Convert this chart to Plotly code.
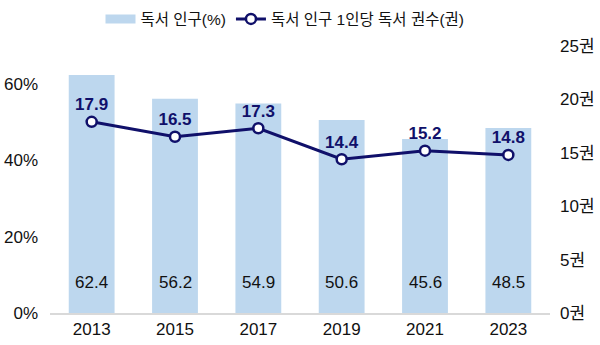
import plotly.graph_objects as go

years = ["2013", "2015", "2017", "2019", "2021", "2023"]
reading_pop = [62.4, 56.2, 54.9, 50.6, 45.6, 48.5]
books_per_reader = [17.9, 16.5, 17.3, 14.4, 15.2, 14.8]
left_ticks = [0, 20, 40, 60]
left_tick_text = ["0%", "20%", "40%", "60%"]
right_ticks = [0, 5, 10, 15, 20, 25]
right_tick_text = ["0권", "5권", "10권", "15권", "20권", "25권"]

FONT = "Liberation Sans, Arial, Noto Sans CJK KR, sans-serif"
NAVY = "#10106A"
BAR = "#BDD7EE"
FS = 17

fig = go.Figure()
fig.add_trace(go.Bar(
    x=years, y=reading_pop, name="독서 인구(%)",
    marker=dict(color=BAR, line=dict(width=0)),
    width=0.55, showlegend=False,
))
# legend-only swatch (wide rectangle like the reference)
fig.add_trace(go.Scatter(
    x=[None], y=[None], name="독서 인구(%)", mode="lines",
    line=dict(color=BAR, width=9), showlegend=True,
))
fig.add_trace(go.Scatter(
    x=years, y=books_per_reader, name="독서 인구 1인당 독서 권수(권)",
    mode="lines+markers+text",
    line=dict(color=NAVY, width=3),
    marker=dict(size=10, color="white", line=dict(color=NAVY, width=2.5)),
    text=[f"<b>{v:.1f}</b>" for v in books_per_reader],
    textposition="top center",
    textfont=dict(color=NAVY, size=FS, family=FONT),
    yaxis="y2",
))

for i, v in enumerate(reading_pop):
    fig.add_annotation(x=i, y=8, xref="x", yref="y", text=f"{v:.1f}",
                       showarrow=False, font=dict(size=FS, color="#111111", family=FONT))

fig.update_layout(
    width=600, height=345,
    margin=dict(l=50, r=50, t=46, b=32, autoexpand=False),
    paper_bgcolor="white", plot_bgcolor="white",
    font=dict(family=FONT, size=FS, color="#111111"),
    showlegend=True,
    legend=dict(orientation="h", x=0.47, xanchor="center", y=1.1, yanchor="middle",
                font=dict(size=15.5), traceorder="normal", itemwidth=30),
    xaxis=dict(type="category", categoryorder="array", categoryarray=years,
               range=[-0.5, len(years) - 0.5], automargin=False,
               showgrid=False, showline=True, linecolor="#D9D9D9",
               linewidth=1.5, ticks="", tickfont=dict(size=FS)),
    yaxis=dict(range=[0, 70], tickvals=left_ticks, ticktext=left_tick_text,
               showgrid=False, zeroline=False, showline=False, ticks="",
               automargin=False, ticklabelstandoff=11, tickfont=dict(size=FS)),
    yaxis2=dict(range=[0, 25], tickvals=right_ticks, ticktext=right_tick_text,
                overlaying="y", side="right", showgrid=False, zeroline=False,
                showline=False, ticks="", automargin=False,
                ticklabelstandoff=9, tickfont=dict(size=FS)),
)

fig.write_html("out.html")
